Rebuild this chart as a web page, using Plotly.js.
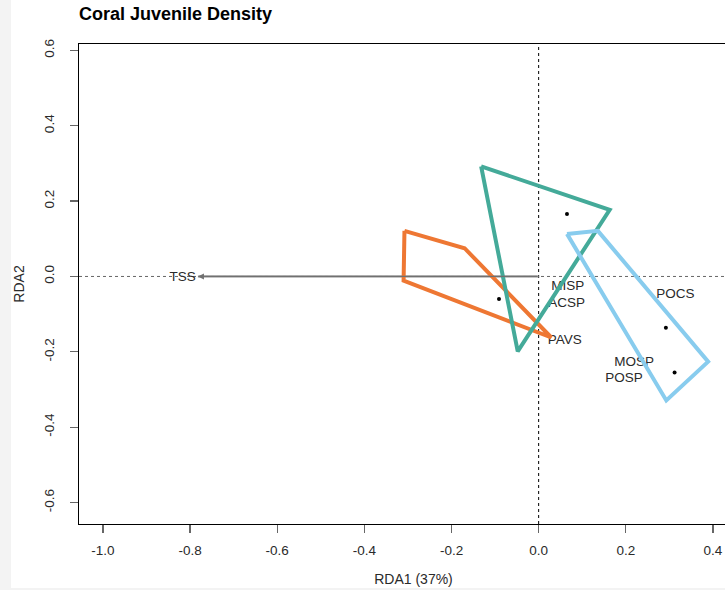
<!DOCTYPE html>
<html>
<head>
<meta charset="utf-8">
<script src="https://cdn.plot.ly/plotly-3.0.1.min.js"></script>
<style>
  html, body { margin: 0; padding: 0; overflow: hidden; width: 725px; height: 590px; background: #f3f3f3; }
  #chart { position: absolute; left: 11px; top: 0px; width: 749px; height: 588px; background: #ffffff; }
</style>
</head>
<body>
<div id="chart"></div>
<script>
// Axis ticks
const xTickVals = [-1.0, -0.8, -0.6, -0.4, -0.2, 0.0, 0.2, 0.4];
const xTickText = ["-1.0", "-0.8", "-0.6", "-0.4", "-0.2", "0.0", "0.2", "0.4"];
const yTickVals = [-0.6, -0.4, -0.2, 0.0, 0.2, 0.4, 0.6];
const yTickText = ["-0.6", "-0.4", "-0.2", "0.0", "0.2", "0.4", "0.6"];

// Convex hulls of the site groups (RDA1, RDA2)
const hullOrangeX = [-0.308, -0.170, 0.029, -0.310];
const hullOrangeY = [0.121, 0.075, -0.162, -0.011];
const hullTealX = [-0.132, 0.163, -0.048];
const hullTealY = [0.292, 0.177, -0.199];
const hullBlueX = [0.065, 0.136, 0.389, 0.293];
const hullBlueY = [0.113, 0.121, -0.226, -0.329];

// Site scores
const siteX = [0.065, -0.091, 0.292, 0.312];
const siteY = [0.166, -0.060, -0.136, -0.255];

// Species scores (labels)
const speciesNames = ["MISP", "ACSP", "PAVS", "POCS", "MOSP", "POSP"];
const speciesX = [0.067, 0.064, 0.060, 0.314, 0.219, 0.196];
const speciesY = [-0.028, -0.072, -0.171, -0.049, -0.230, -0.272];

// Environmental vector
const envName = "TSS";
const envArrowX = -0.782;
const envArrowY = 0.0;
const envLabelX = -0.817;
const envLabelY = -0.003;

const FONT = '"Liberation Sans", Arial, sans-serif';

function closed(arr) { return arr.concat([arr[0]]); }

function hull(xs, ys, color) {
  return {
    x: closed(xs), y: closed(ys), type: 'scatter', mode: 'lines',
    line: { color: color, width: 4 }, hoverinfo: 'skip', showlegend: false
  };
}

const traces = [
  {
    x: [0, envArrowX], y: [0, envArrowY], type: 'scatter', mode: 'lines',
    line: { color: '#8c8c8c', width: 2 }, hoverinfo: 'skip', showlegend: false
  },
  {
    x: [envLabelX], y: [envLabelY], text: [envName], type: 'scatter', mode: 'text',
    textfont: { family: FONT, size: 13.5, color: '#2a2a2a' }, textposition: 'middle center',
    hoverinfo: 'skip', showlegend: false
  },
  {
    x: speciesX, y: speciesY, text: speciesNames, type: 'scatter', mode: 'text',
    textfont: { family: FONT, size: 13.5, color: '#2a2a2a' }, textposition: 'middle center',
    hoverinfo: 'skip', showlegend: false
  },
  hull(hullOrangeX, hullOrangeY, '#EE7733'),
  hull(hullTealX, hullTealY, '#44AA99'),
  hull(hullBlueX, hullBlueY, '#88CCEE'),
  {
    x: siteX, y: siteY, type: 'scatter', mode: 'markers',
    marker: { color: '#000000', size: 4 }, hoverinfo: 'skip', showlegend: false
  }
];

const axisCommon = {
  showgrid: false, zeroline: false, showline: true, mirror: true,
  linecolor: '#000000', linewidth: 1,
  ticks: 'outside', ticklen: 8, tickwidth: 1.3, tickcolor: '#666666',
  tickfont: { family: FONT, size: 13.5, color: '#2a2a2a' },
  tickmode: 'array', fixedrange: true
};

const layout = {
  width: 749, height: 588,
  margin: { l: 68, r: 12, t: 44, b: 64 },
  paper_bgcolor: '#ffffff', plot_bgcolor: '#ffffff',
  showlegend: false,
  title: {
    text: '<b>Coral Juvenile Density</b>',
    font: { family: FONT, size: 18, color: '#000000' },
    x: 0, xref: 'paper', xanchor: 'left',
    y: 1 - 13.5 / 588, yref: 'container', yanchor: 'middle'
  },
  xaxis: Object.assign({}, axisCommon, {
    range: [-1.055, 0.4805],
    tickvals: xTickVals, ticktext: xTickText,
    ticklabelstandoff: 6,
    title: { text: 'RDA1 (37%)', font: { family: FONT, size: 14, color: '#2a2a2a' }, standoff: 16 }
  }),
  yaxis: Object.assign({}, axisCommon, {
    range: [-0.657, 0.617],
    tickvals: yTickVals, ticktext: yTickText, tickangle: -90,
    ticklabelstandoff: 11,
    title: { text: 'RDA2', font: { family: FONT, size: 14, color: '#2a2a2a' }, standoff: 14 }
  }),
  shapes: [
    { type: 'line', xref: 'paper', yref: 'y', x0: 0, x1: 1, y0: 0, y1: 0,
      line: { color: '#666666', width: 1, dash: 'dot' }, layer: 'below' },
    { type: 'line', xref: 'x', yref: 'paper', x0: 0, x1: 0, y0: 0, y1: 1,
      line: { color: '#000000', width: 1, dash: 'dot' }, layer: 'below' }
  ],
  annotations: [
    { x: envArrowX, y: envArrowY, ax: 0, ay: 0, axref: 'x', ayref: 'y', xref: 'x', yref: 'y',
      text: '', showarrow: true, arrowhead: 2, arrowsize: 1, arrowwidth: 1.2, arrowcolor: '#707070',
      standoff: 0 }
  ]
};

Plotly.newPlot('chart', traces, layout, { displayModeBar: false, staticPlot: true });
</script>
</body>
</html>
